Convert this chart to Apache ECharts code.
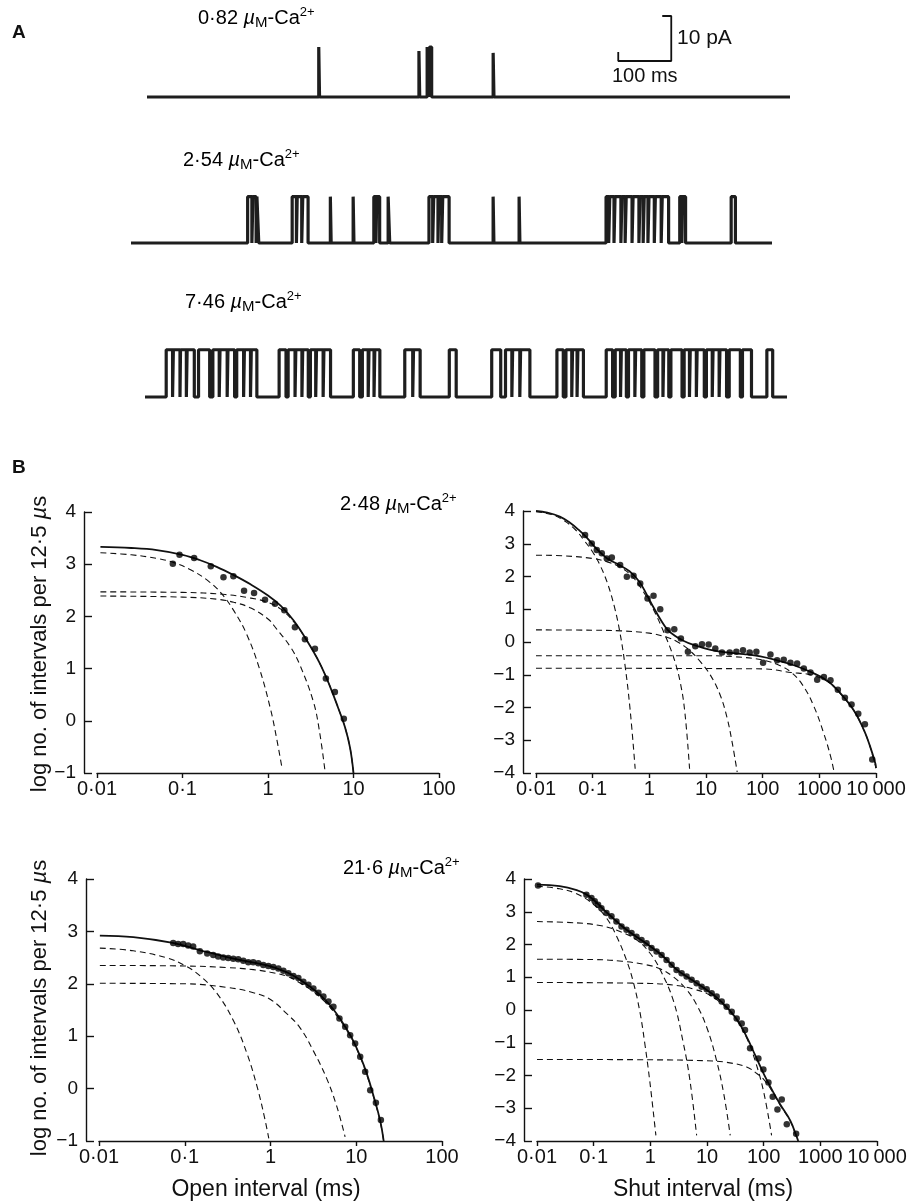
<!DOCTYPE html>
<html>
<head>
<meta charset="utf-8">
<title>Ca-dependence of channel gating</title>
<script src="https://cdn.jsdelivr.net/npm/echarts@6/dist/echarts.min.js"></script>
<style>
  html, body { margin: 0; padding: 0; background: #fff; }
  #chart { width: 912px; height: 1201px; }
</style>
</head>
<body>
<div id="chart"></div>
<script>
// ---------- A: single channel records ----------
// each record: duration (ms), open level (pA), openings [start, end] in ms (optional 3rd = amplitude)
const traceConc = ['0·82', '2·54', '7·46']
const traceDuration = [1213, 1209, 1211]
const traceLevel = [11, 10.3, 10.5]

const trace1Open = [
  [324, 325.5, 11.1], [513, 514.5, 10.2], [528.5, 531.5, 11.1], [533, 537, 11.1], [653, 654.5, 9.8]
]
const trace2Open = [
  [220, 228], [230, 236], [237.5, 241],
  [304, 312], [313.5, 322], [324, 334],
  [376, 377.5], [419, 420.5],
  [458, 462], [463.5, 469], [485, 488],
  [562, 569], [571, 579], [580.5, 586], [588, 600],
  [683, 684.5], [732, 733.5],
  [896, 901], [903, 911], [913, 924], [926, 932], [934, 945], [947, 958],
  [960, 966], [968, 975], [977, 987], [989, 1000], [1002, 1014],
  [1035, 1039], [1040.5, 1046], [1132, 1140]
]
const trace3Open = [
  [40, 52], [53.5, 66], [67, 78], [79.5, 93], [101, 122],
  [128, 140], [141.5, 155], [156.5, 169], [173, 186], [187.5, 199], [200.5, 211],
  [253, 266], [270, 283], [284.5, 296], [297.5, 308],
  [312, 322], [323.5, 336], [337.5, 350],
  [393, 405], [410, 421], [422.5, 432], [433.5, 443],
  [490, 505], [506.5, 519], [574, 587], [654, 671],
  [680, 692], [693.5, 707], [708.5, 726],
  [777, 789], [794, 805], [806.5, 815], [816.5, 827],
  [870, 882], [887, 897], [898.5, 908], [912, 924], [925.5, 937], [941, 962],
  [967, 977], [978.5, 988], [992, 1013],
  [1017, 1027], [1028.5, 1040], [1041.5, 1055],
  [1059, 1070], [1071.5, 1083], [1084.5, 1097],
  [1102, 1123], [1127, 1144], [1173, 1184]
]

// calibration bar (drawn in record 1 coordinates)
const barMs = 100
const barPA = 10
const barOrigin = [889, 8]

// ---------- B: interval distributions, [log10 interval (ms), log no. of intervals] ----------
const openTicks = ['0·01', '0·1', '1', '10', '100']
const shutTicks = ['0·01', '0·1', '1', '10', '100', '1000', '10\u2009000']

const open248Dots = [[-1.113,3.01],[-1.035,3.18],[-0.864,3.12],[-0.669,2.96],[-0.521,2.75],[-0.405,2.77],
  [-0.280,2.49],[-0.163,2.45],[-0.035,2.32],[0.082,2.24],[0.191,2.12],[0.315,1.79],[0.432,1.56],
  [0.549,1.38],[0.677,0.81],[0.782,0.55],[0.887,0.04]]
const open248Fit = [[-1.96,3.33],[-1.6,3.31],[-1.3,3.27],[-1.0,3.18],[-0.8,3.08],[-0.6,2.95],[-0.4,2.79],
  [-0.2,2.61],[0.0,2.40],[0.15,2.20],[0.3,1.92],[0.45,1.55],[0.6,1.12],[0.72,0.68],[0.82,0.25],
  [0.9,-0.12],[0.96,-0.52],[1.0,-1.0]]
const open248Fast = [[-1.96,3.22],[-1.6,3.18],[-1.3,3.11],[-1.1,3.03],[-0.9,2.89],[-0.7,2.68],[-0.55,2.45],
  [-0.4,2.11],[-0.25,1.66],[-0.1,1.0],[0.03,0.22],[0.1,-0.33],[0.16,-0.87]]
const open248Mid = [[-1.96,2.39],[-1.0,2.37],[-0.6,2.33],[-0.4,2.27],[-0.2,2.16],[0.0,1.95],[0.1,1.76],
  [0.26,1.42],[0.37,1.08],[0.53,0.37],[0.6,-0.18],[0.665,-0.94]]
const open248Slow = [[-1.96,2.47],[-1.0,2.46],[-0.5,2.42],[-0.2,2.35],[0.0,2.27],[0.15,2.14],[0.3,1.90],
  [0.45,1.55],[0.6,1.12],[0.72,0.68],[0.82,0.25],[0.9,-0.12],[0.96,-0.52],[1.0,-1.0]]

const shut248Dots = [[-1.134,3.27],[-1.016,3.01],[-0.928,2.81],[-0.839,2.71],[-0.751,2.55],[-0.662,2.58],
  [-0.515,2.35],[-0.397,1.99],[-0.279,2.02],[-0.161,1.79],[-0.032,1.33],[0.074,1.41],[0.192,1.00],
  [0.322,0.36],[0.440,0.39],[0.557,0.11],[0.681,-0.30],[0.811,-0.13],[0.929,-0.07],[1.047,-0.08],
  [1.164,-0.20],[1.282,-0.32],[1.418,-0.32],[1.536,-0.30],[1.653,-0.25],[1.771,-0.32],[1.889,-0.30],
  [2.007,-0.63],[2.137,-0.38],[2.255,-0.56],[2.372,-0.54],[2.490,-0.63],[2.608,-0.66],[2.726,-0.81],
  [2.844,-0.93],[2.962,-1.15],[3.080,-1.07],[3.197,-1.17],[3.327,-1.46],[3.451,-1.70],[3.569,-1.91],
  [3.687,-2.19],[3.804,-2.51],[3.934,-3.59]]
const shut248Fit = [[-2,4.0],[-1.8,3.95],[-1.58,3.83],[-1.4,3.64],[-1.25,3.43],[-1.1,3.18],[-0.93,2.84],
  [-0.75,2.56],[-0.55,2.37],[-0.35,2.16],[-0.18,1.85],[-0.05,1.46],[0.07,1.07],[0.2,0.68],[0.32,0.38],
  [0.45,0.19],[0.6,0.04],[0.78,-0.09],[1.08,-0.24],[1.37,-0.32],[1.67,-0.37],[1.96,-0.44],[2.25,-0.56],
  [2.55,-0.71],[2.84,-0.91],[3.14,-1.18],[3.37,-1.56],[3.61,-2.09],[3.79,-2.70],[3.90,-3.21],[3.99,-3.72],[4.0,-3.85]]
const shut248C1 = [[-2,3.98],[-1.7,3.88],[-1.5,3.7],[-1.3,3.42],[-1.15,3.1],[-1.0,2.75],[-0.88,2.38],
  [-0.75,1.85],[-0.62,1.1],[-0.52,0.3],[-0.43,-0.7],[-0.34,-2.05],[-0.25,-3.87]]
const shut248C2 = [[-2,2.65],[-1.5,2.63],[-1.0,2.55],[-0.75,2.45],[-0.5,2.27],[-0.3,2.0],[-0.1,1.52],
  [0.07,1.0],[0.25,0.32],[0.43,-0.48],[0.55,-1.27],[0.63,-2.2],[0.71,-3.87]]
const shut248C3 = [[-2,0.37],[-1,0.36],[-0.5,0.34],[0,0.27],[0.3,0.15],[0.5,0.0],[0.7,-0.24],[0.9,-0.6],
  [1.08,-1.02],[1.25,-1.62],[1.37,-2.3],[1.46,-3.05],[1.55,-3.97]]
const shut248C4 = [[-2,-0.42],[1.0,-0.42],[1.5,-0.45],[2.0,-0.55],[2.3,-0.72],[2.5,-0.92],[2.7,-1.3],
  [2.9,-1.95],[3.08,-2.8],[3.2,-3.5],[3.26,-3.97]]
const shut248C5 = [[-2,-0.80],[2.0,-0.82],[2.5,-0.93],[2.84,-1.0],[3.14,-1.2],[3.37,-1.58],[3.61,-2.1],
  [3.79,-2.71],[3.9,-3.22],[4.0,-3.85]]

const open216Dots = [[-1.135,2.78],[-1.077,2.76],[-1.018,2.76],[-0.960,2.73],[-0.902,2.71],[-0.824,2.62],
  [-0.738,2.58],[-0.668,2.55],[-0.610,2.52],[-0.551,2.50],[-0.493,2.49],[-0.434,2.48],[-0.376,2.47],
  [-0.317,2.44],[-0.259,2.41],[-0.201,2.41],[-0.142,2.39],[-0.084,2.36],[-0.025,2.34],[0.033,2.32],
  [0.092,2.29],[0.150,2.25],[0.208,2.20],[0.267,2.15],[0.325,2.11],[0.383,2.04],[0.442,1.98],
  [0.500,1.91],[0.559,1.83],[0.617,1.76],[0.676,1.66],[0.734,1.56],[0.804,1.34],[0.871,1.18],
  [0.929,1.02],[0.987,0.86],[1.046,0.61],[1.104,0.32],[1.163,-0.03],[1.229,-0.27],[1.287,-0.60]]
const open216Fit = [[-1.99,2.92],[-1.6,2.89],[-1.14,2.78],[-0.82,2.64],[-0.43,2.48],[-0.04,2.35],[0.19,2.22],
  [0.34,2.08],[0.54,1.84],[0.73,1.52],[0.93,1.02],[1.05,0.60],[1.12,0.30],[1.20,-0.13],[1.28,-0.62],[1.32,-1.0]]
const open216Fast = [[-1.99,2.68],[-1.6,2.63],[-1.2,2.49],[-1.0,2.35],[-0.82,2.15],[-0.63,1.83],[-0.43,1.29],
  [-0.27,0.65],[-0.15,0.0],[-0.07,-0.55],[-0.02,-0.95]]
const open216Mid = [[-1.99,2.01],[-1,2.0],[-0.5,1.93],[-0.2,1.83],[0.0,1.70],[0.19,1.43],[0.345,1.16],
  [0.5,0.72],[0.656,0.19],[0.773,-0.34],[0.87,-0.92]]
const open216Slow = [[-1.99,2.35],[-1.0,2.34],[-0.5,2.31],[-0.2,2.27],[0.0,2.22],[0.2,2.14],[0.35,2.01],
  [0.54,1.80],[0.73,1.48],[0.93,1.0],[1.05,0.59],[1.12,0.28],[1.20,-0.15],[1.28,-0.64],[1.32,-1.0]]

const shut216Dots = [[-1.982,3.80],[-1.128,3.52],[-1.039,3.42],[-0.981,3.32],[-0.922,3.21],[-0.863,3.11],
  [-0.774,2.96],[-0.686,2.86],[-0.598,2.70],[-0.509,2.55],[-0.421,2.45],[-0.332,2.35],[-0.244,2.24],
  [-0.156,2.14],[-0.067,2.04],[0.021,1.89],[0.110,1.79],[0.198,1.68],[0.286,1.53],[0.375,1.38],
  [0.463,1.22],[0.552,1.12],[0.640,1.02],[0.728,0.92],[0.817,0.82],[0.905,0.71],[0.994,0.63],
  [1.082,0.51],[1.170,0.41],[1.259,0.26],[1.347,0.10],[1.436,-0.05],[1.524,-0.26],[1.612,-0.41],
  [1.671,-0.61],[1.760,-1.17],[1.907,-1.48],[1.995,-1.82],[2.084,-2.21],[2.160,-2.65],[2.243,-3.04],
  [2.319,-2.73],[2.408,-3.49],[2.573,-3.78]]
const shut216Fit = [[-2,3.83],[-1.6,3.78],[-1.3,3.66],[-1.13,3.53],[-0.98,3.33],[-0.86,3.13],[-0.72,2.90],
  [-0.42,2.45],[-0.07,2.03],[0.2,1.68],[0.46,1.24],[0.73,0.92],[0.99,0.62],[1.26,0.24],[1.52,-0.27],
  [1.70,-0.82],[1.85,-1.38],[1.95,-1.76],[2.05,-2.12],[2.15,-2.45],[2.29,-2.88],[2.47,-3.38],[2.58,-3.86],[2.61,-4.0]]
const shut216C1 = [[-2,3.78],[-1.6,3.7],[-1.3,3.55],[-1.0,3.22],[-0.77,2.8],[-0.6,2.27],[-0.42,1.52],
  [-0.3,0.85],[-0.185,-0.05],[-0.097,-1.03],[-0.008,-2.2],[0.098,-3.83]]
const shut216C2 = [[-2,2.70],[-1.3,2.66],[-0.89,2.58],[-0.6,2.44],[-0.244,2.14],[-0.008,1.74],[0.168,1.25],
  [0.404,0.3],[0.581,-1.0],[0.699,-2.15],[0.817,-3.83]]
const shut216C3 = [[-2,1.55],[-1,1.54],[-0.5,1.49],[-0.07,1.38],[0.17,1.26],[0.4,1.02],[0.64,0.62],
  [0.82,0.15],[1.0,-0.55],[1.17,-1.55],[1.3,-2.6],[1.41,-3.83]]
const shut216C4 = [[-2,0.84],[0,0.81],[0.5,0.74],[0.8,0.62],[1.0,0.50],[1.2,0.28],[1.35,0.06],[1.5,-0.24],
  [1.7,-0.85],[1.85,-1.55],[2.0,-2.5],[2.14,-3.83]]
const shut216C5 = [[-2,-1.51],[0,-1.52],[1.0,-1.55],[1.35,-1.6],[1.7,-1.74],[1.88,-1.94],[2.0,-2.12],
  [2.15,-2.48],[2.29,-2.9],[2.47,-3.4],[2.58,-3.88]]

// ---------- styling ----------
const FONT = '"Liberation Sans", Arial, Helvetica, sans-serif'
const INK = '#111'

function traceLine(openings, level, duration) {
  const pts = [[0, 0]]
  openings.forEach(function (o) {
    const amp = o.length > 2 ? o[2] : level
    pts.push([o[0], 0], [o[0], amp], [o[1], amp], [o[1], 0])
  })
  pts.push([duration, 0])
  return pts
}

function curve(data, idx, dashed) {
  return {
    type: 'line', xAxisIndex: idx, yAxisIndex: idx, data: data,
    showSymbol: false, smooth: 0.4, silent: true,
    lineStyle: { color: INK, width: dashed ? 1.1 : 1.8, type: dashed ? [6, 4] : 'solid' },
    z: dashed ? 2 : 3
  }
}
function dots(data, idx) {
  return {
    type: 'scatter', xAxisIndex: idx, yAxisIndex: idx, data: data,
    symbolSize: 6.5, itemStyle: { color: '#000' }, silent: true, z: 4
  }
}

const richConc = {
  n: { fontSize: 20, fontFamily: FONT, color: INK, lineHeight: 24 },
  mu: { fontSize: 20, fontFamily: FONT, fontStyle: 'italic', color: INK, lineHeight: 24 },
  sc: { fontSize: 15, fontFamily: FONT, color: INK, lineHeight: 19, verticalAlign: 'bottom' },
  sup: { fontSize: 13, fontFamily: FONT, color: INK, lineHeight: 13, verticalAlign: 'top' }
}
function concLabel(value, x, y) {
  return {
    type: 'text', x: x, y: y,
    style: {
      text: '{n|' + value + ' }{mu|µ}{sc|M}{n|-Ca}{sup|2+}',
      rich: richConc, verticalAlign: 'middle', align: 'left'
    }
  }
}
function plainText(txt, x, y, size, opts) {
  opts = opts || {}
  return {
    type: 'text', x: x, y: y, rotation: opts.rotation || 0,
    style: {
      text: txt, font: (opts.bold ? 'bold ' : '') + size + 'px ' + FONT, fill: INK,
      align: opts.align || 'left', verticalAlign: 'middle', rich: opts.rich
    }
  }
}

// grids: 0-2 records, 3-6 distributions
const grids = [
  { left: 147, top: 7, width: 643, height: 99 },
  { left: 131, top: 189, width: 641, height: 63 },
  { left: 145, top: 343, width: 642, height: 63 },
  { left: 97, top: 512, width: 342, height: 261 },
  { left: 536, top: 511, width: 340, height: 262 },
  { left: 99, top: 879, width: 343, height: 262 },
  { left: 537, top: 879, width: 340, height: 262 }
].map(function (g) { return Object.assign({ outerBoundsMode: 'none', containLabel: false }, g) })

const xAxes = []
const yAxes = []
for (let i = 0; i < 3; i++) {
  xAxes.push({ gridIndex: i, type: 'value', min: 0, max: traceDuration[i], show: false })
  yAxes.push({ gridIndex: i, type: 'value', min: -2, max: i === 0 ? 20 : 12, show: false })
}
const axisLine = { show: true, onZero: false, lineStyle: { color: INK, width: 1.4 } }
function distXAxis(idx, ticks) {
  return {
    gridIndex: idx, type: 'value', min: -2, max: ticks.length - 3, interval: 1,
    axisLine: axisLine,
    axisTick: { show: true, length: 5, lineStyle: { color: INK, width: 1.4 } },
    axisLabel: {
      color: INK, fontSize: 20, fontFamily: FONT, margin: 6, showMinLabel: true, showMaxLabel: true,
      formatter: function (v) { return ticks[Math.round(v) + 2] }
    },
    splitLine: { show: false }
  }
}
function distYAxis(idx, min) {
  return {
    gridIndex: idx, type: 'value', min: min, max: 4, interval: 1, offset: 13,
    axisLine: axisLine,
    axisTick: { show: true, inside: true, length: 8, lineStyle: { color: INK, width: 1.4 } },
    axisLabel: {
      color: INK, fontSize: 19, fontFamily: FONT, margin: 8,
      formatter: function (v) { return v < 0 ? '\u2212' + (-v) : String(v) }
    },
    splitLine: { show: false }
  }
}
xAxes.push(distXAxis(3, openTicks), distXAxis(4, shutTicks), distXAxis(5, openTicks), distXAxis(6, shutTicks))
yAxes.push(distYAxis(3, -1), distYAxis(4, -4), distYAxis(5, -1), distYAxis(6, -4))

const traceStyle = { color: '#1e1e1e', width: 3.2 }
const recordSeries = [trace1Open, trace2Open, trace3Open].map(function (ops, i) {
  return {
    type: 'line', xAxisIndex: i, yAxisIndex: i, showSymbol: false, silent: true,
    data: traceLine(ops, traceLevel[i], traceDuration[i]), lineStyle: traceStyle
  }
})
const bar = {
  type: 'line', xAxisIndex: 0, yAxisIndex: 0, showSymbol: false, silent: true,
  data: [
    [barOrigin[0], barOrigin[1] + 2], barOrigin,
    [barOrigin[0] + barMs, barOrigin[1]], [barOrigin[0] + barMs, barOrigin[1] + barPA],
    [barOrigin[0] + barMs - 17, barOrigin[1] + barPA]
  ],
  lineStyle: { color: INK, width: 1.8 }
}

const series = recordSeries.concat([bar,
  curve(open248Fit, 3), curve(open248Fast, 3, true), curve(open248Mid, 3, true), curve(open248Slow, 3, true),
  dots(open248Dots, 3),
  curve(shut248Fit, 4), curve(shut248C1, 4, true), curve(shut248C2, 4, true), curve(shut248C3, 4, true),
  curve(shut248C4, 4, true), curve(shut248C5, 4, true), dots(shut248Dots, 4),
  curve(open216Fit, 5), curve(open216Fast, 5, true), curve(open216Mid, 5, true), curve(open216Slow, 5, true),
  dots(open216Dots, 5),
  curve(shut216Fit, 6), curve(shut216C1, 6, true), curve(shut216C2, 6, true), curve(shut216C3, 6, true),
  curve(shut216C4, 6, true), curve(shut216C5, 6, true), dots(shut216Dots, 6)
])

const yTitleRich = {
  t: { fontSize: 22, fontFamily: FONT, color: INK },
  i: { fontSize: 22, fontFamily: FONT, fontStyle: 'italic', color: INK }
}
const yTitle = '{t|log no. of intervals per 12·5 }{i|µ}{t|s}'

const graphics = [
  plainText('A', 12, 33, 19, { bold: true }),
  concLabel(traceConc[0], 198, 18),
  concLabel(traceConc[1], 183, 160),
  concLabel(traceConc[2], 185, 302),
  plainText('10 pA', 677, 38, 21),
  plainText('100 ms', 612, 76, 20),
  plainText('B', 12, 468, 19, { bold: true }),
  concLabel('2·48', 340, 504),
  concLabel('21·6', 343, 868),
  plainText(yTitle, 40, 644, 22, { rotation: Math.PI / 2, align: 'center', rich: yTitleRich }),
  plainText(yTitle, 40, 1008, 22, { rotation: Math.PI / 2, align: 'center', rich: yTitleRich }),
  plainText('Open interval (ms)', 266, 1190, 23, { align: 'center' }),
  plainText('Shut interval (ms)', 703, 1190, 23, { align: 'center' })
]

const chart = echarts.init(document.getElementById('chart'), null, { renderer: 'canvas' })
chart.setOption({
  animation: false,
  backgroundColor: '#ffffff',
  grid: grids,
  xAxis: xAxes,
  yAxis: yAxes,
  series: series,
  graphic: graphics
})
</script>
</body>
</html>
